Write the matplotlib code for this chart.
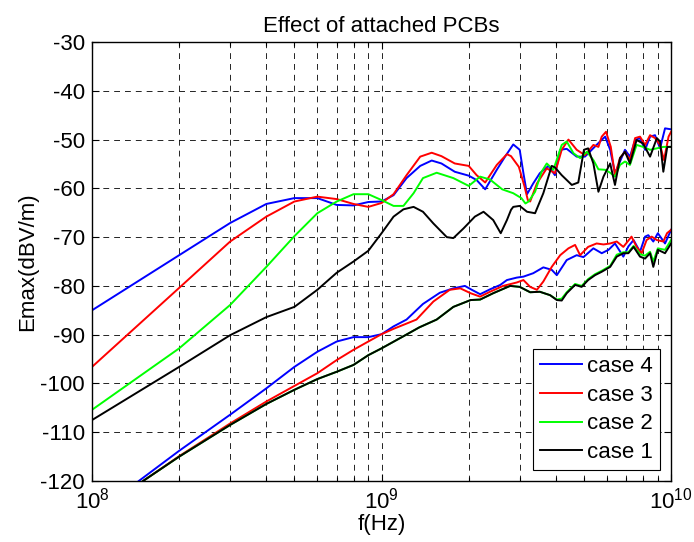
import matplotlib
matplotlib.use("Agg")
import matplotlib.pyplot as plt
import numpy as np
from matplotlib.ticker import LogLocator, NullFormatter, MultipleLocator

plt.rcParams["font.family"] = ["Liberation Sans", "DejaVu Sans"]
plt.rcParams["mathtext.fontset"] = "custom"
plt.rcParams["mathtext.rm"] = "Liberation Sans"
plt.rcParams["mathtext.it"] = "Liberation Sans"
plt.rcParams["mathtext.default"] = "regular"
plt.rcParams["axes.unicode_minus"] = False

# frequencies in GHz, field in dBV/m
case4_hi_f = [0.1, 0.2, 0.3, 0.4, 0.5, 0.6, 0.7, 0.8, 0.9, 1.0,
              1.1, 1.22, 1.36, 1.49, 1.61, 1.79, 2.0, 2.13, 2.28, 2.5,
              2.67, 2.85, 3.0, 3.09, 3.18, 3.34, 3.52, 3.77, 3.97, 4.14,
              4.36, 4.72, 5.04, 5.32, 5.68, 5.92, 6.16, 6.4, 6.66, 6.93,
              7.21, 7.51, 7.81, 8.13, 8.46, 8.8, 9.16, 9.53, 10.0]
case4_hi_e = [-85.0, -73.7, -67.1, -63.2, -62.0, -62.0, -63.4, -63.5, -62.8, -62.7,
              -61.4, -57.9, -55.4, -54.3, -54.9, -56.6, -57.4, -58.3, -60.2, -56.2,
              -53.5, -51.0, -52.1, -56.9, -61.2, -59.0, -56.9, -55.4, -57.3, -52.1,
              -51.9, -53.5, -53.5, -52.1, -50.4, -49.4, -52.1, -56.9, -54.5, -52.1,
              -53.5, -50.1, -49.7, -52.1, -49.4, -49.1, -51.8, -47.7, -47.9]

case3_hi_f = [0.1, 0.2, 0.3, 0.4, 0.5, 0.6, 0.7, 0.8, 0.9, 1.0,
              1.1, 1.22, 1.36, 1.49, 1.61, 1.79, 2.0, 2.13, 2.28, 2.5,
              2.71, 2.8, 2.98, 3.12, 3.2, 3.26, 3.44, 3.72, 3.97, 4.19,
              4.42, 4.72, 5.04, 5.39, 5.61, 5.76, 5.96, 6.19, 6.4, 6.66,
              6.93, 7.21, 7.51, 7.81, 8.13, 8.46, 8.8, 9.16, 9.45, 9.8, 10.0]
case3_hi_e = [-96.6, -80.4, -70.9, -65.8, -62.7, -61.7, -62.2, -63.2, -63.8, -63.0,
              -61.2, -57.3, -53.5, -52.7, -53.4, -54.9, -55.4, -57.3, -58.8, -55.2,
              -53.0, -53.4, -55.6, -59.7, -62.4, -62.7, -59.0, -55.9, -56.9, -52.1,
              -50.0, -52.1, -53.2, -51.1, -51.5, -49.4, -48.4, -51.5, -57.3, -53.8,
              -52.5, -54.2, -49.7, -49.4, -51.1, -49.1, -49.7, -51.1, -54.2, -49.4, -48.4]

case2_hi_f = [0.1, 0.2, 0.3, 0.4, 0.5, 0.6, 0.7, 0.8, 0.9, 1.0,
              1.1, 1.19, 1.29, 1.39, 1.55, 1.77, 2.0, 2.19, 2.37, 2.61,
              2.85, 3.04, 3.14, 3.22, 3.39, 3.57, 3.72, 3.92, 4.19, 4.36,
              4.6, 4.85, 5.12, 5.39, 5.61, 5.92, 6.16, 6.4, 6.66, 6.93,
              7.21, 7.6, 8.0, 8.46, 8.93, 9.4, 10.0]
case2_hi_e = [-105.4, -92.8, -83.9, -76.1, -69.8, -65.1, -62.7, -61.2, -61.2, -62.4,
              -63.6, -63.6, -61.0, -57.9, -56.8, -57.9, -59.5, -57.6, -58.2, -60.2,
              -61.0, -62.0, -63.1, -62.7, -60.7, -56.6, -54.9, -56.2, -51.1, -50.4,
              -52.8, -53.8, -52.5, -54.2, -56.1, -56.2, -56.8, -57.6, -55.2, -54.5,
              -55.2, -51.1, -51.5, -52.1, -51.8, -51.5, -51.5]

case1_hi_f = [0.1, 0.2, 0.3, 0.4, 0.5, 0.6, 0.7, 0.8, 0.9, 1.0,
              1.1, 1.19, 1.29, 1.39, 1.51, 1.68, 1.77, 1.92, 2.1, 2.25,
              2.43, 2.58, 2.71, 2.8, 2.85, 3.0, 3.18, 3.39, 3.62, 3.87,
              3.97, 4.19, 4.54, 4.78, 5.0, 5.17, 5.39, 5.61, 5.84, 6.16,
              6.4, 6.66, 6.93, 7.21, 7.6, 8.0, 8.46, 8.93, 9.16, 9.4, 9.7, 10.0]
case1_hi_e = [-107.5, -96.6, -90.1, -86.4, -84.3, -80.8, -77.3, -75.0, -72.8, -69.2,
              -65.8, -64.3, -63.8, -64.8, -67.2, -70.0, -70.2, -68.2, -65.8, -64.8,
              -66.5, -69.2, -66.5, -64.4, -63.8, -63.6, -64.8, -65.1, -61.0, -55.4,
              -55.7, -57.3, -59.3, -58.8, -52.1, -51.8, -54.9, -60.7, -57.6, -54.9,
              -59.3, -53.8, -52.5, -54.9, -50.1, -50.8, -53.5, -49.7, -50.4, -56.6, -51.5, -51.5]

case4_lo_f = [0.145, 0.2, 0.3, 0.4, 0.5, 0.6, 0.7, 0.8, 0.9, 1.0,
              1.1, 1.22, 1.39, 1.59, 1.77, 1.94, 2.05, 2.19, 2.37, 2.57,
              2.71, 2.93, 3.09, 3.34, 3.62, 3.87, 4.03, 4.36, 4.72, 4.98,
              5.39, 5.76, 6.08, 6.4, 6.84, 7.12, 7.42, 7.81, 8.13, 8.34,
              8.68, 9.0, 9.53, 10.0]
case4_lo_e = [-120.0, -113.8, -106.4, -101.0, -96.6, -93.5, -91.4, -90.5, -90.5, -89.9,
              -88.3, -86.9, -83.7, -81.4, -80.5, -80.0, -80.8, -81.7, -80.7, -79.8,
              -78.8, -78.3, -78.1, -77.4, -76.2, -76.7, -77.8, -74.7, -73.7, -74.1,
              -72.3, -73.3, -72.6, -71.3, -74.0, -71.9, -70.6, -73.0, -69.9, -69.6,
              -70.9, -69.2, -71.3, -68.5]

case3_lo_f = [0.15, 0.2, 0.3, 0.4, 0.5, 0.6, 0.7, 0.8, 0.9, 1.0,
              1.1, 1.32, 1.51, 1.72, 1.87, 2.03, 2.19, 2.37, 2.63, 2.93,
              3.09, 3.26, 3.44, 3.62, 3.87, 4.14, 4.42, 4.66, 4.85, 5.17,
              5.53, 5.84, 6.16, 6.49, 6.84, 7.3, 7.6, 7.91, 8.23, 8.57,
              8.93, 9.4, 9.68, 10.0]
case3_lo_e = [-120.0, -114.9, -108.2, -103.7, -100.5, -97.9, -95.2, -93.1, -91.4, -89.9,
              -88.8, -86.9, -83.2, -80.8, -80.5, -81.5, -82.2, -81.2, -80.0, -79.3,
              -78.8, -80.2, -80.8, -79.1, -76.1, -73.7, -72.3, -71.6, -73.7, -72.0,
              -71.3, -71.5, -71.3, -70.9, -72.0, -69.9, -72.0, -73.3, -70.6, -69.9,
              -70.6, -70.9, -69.2, -68.5]

case2_lo_f = [0.15, 0.2, 0.3, 0.4, 0.5, 0.6, 0.7, 0.8, 0.9, 1.0,
              1.2, 1.35, 1.55, 1.77, 2.03, 2.19, 2.43, 2.78, 3.0, 3.26,
              3.52, 3.82, 4.03, 4.19, 4.36, 4.66, 4.91, 5.17, 5.46, 5.76,
              6.16, 6.49, 6.84, 7.12, 7.42, 7.81, 8.13, 8.46, 8.68, 9.0,
              9.53, 10.0]
case2_lo_e = [-120.0, -115.0, -108.5, -104.2, -101.3, -99.1, -97.6, -96.2, -94.2, -92.8,
              -90.2, -88.5, -86.9, -84.3, -82.9, -82.8, -81.5, -80.0, -80.2, -81.3,
              -81.2, -81.9, -82.8, -82.6, -81.3, -79.6, -80.0, -78.6, -77.6, -76.9,
              -75.9, -73.6, -73.1, -73.1, -71.8, -73.5, -73.8, -73.0, -75.0, -72.3,
              -72.6, -70.6]

case1_lo_f = [0.15, 0.2, 0.3, 0.4, 0.5, 0.6, 0.7, 0.8, 0.9, 1.0,
              1.2, 1.35, 1.55, 1.77, 2.03, 2.19, 2.43, 2.78, 3.0, 3.26,
              3.52, 3.82, 4.03, 4.19, 4.36, 4.66, 4.91, 5.17, 5.46, 5.76,
              6.16, 6.49, 6.84, 7.12, 7.42, 7.81, 8.13, 8.46, 8.68, 9.0,
              9.53, 10.0]
case1_lo_e = [-120.0, -115.0, -108.5, -104.2, -101.3, -99.1, -97.6, -96.2, -94.2, -92.8,
              -90.2, -88.5, -86.9, -84.3, -82.9, -82.8, -81.5, -80.0, -80.2, -81.3,
              -81.2, -81.9, -82.9, -83.0, -81.5, -79.8, -80.2, -78.8, -77.8, -77.1,
              -76.1, -74.0, -73.3, -73.3, -72.0, -74.0, -74.4, -73.3, -76.1, -72.6,
              -73.3, -71.3]

cases = [
    ("case 4", "#0000ff", case4_hi_f, case4_hi_e, case4_lo_f, case4_lo_e),
    ("case 3", "#ff0000", case3_hi_f, case3_hi_e, case3_lo_f, case3_lo_e),
    ("case 2", "#00ff00", case2_hi_f, case2_hi_e, case2_lo_f, case2_lo_e),
    ("case 1", "#000000", case1_hi_f, case1_hi_e, case1_lo_f, case1_lo_e),
]

fig = plt.figure(figsize=(6.94, 5.42), dpi=100)
ax = fig.add_axes([0.1326, 0.1125, 0.8344, 0.81])

for label, color, hf, he, lf, le in cases:
    ax.plot(np.array(hf) * 1e9, he, color=color, lw=1.4, label=label)
    ax.plot(np.array(lf) * 1e9, le, color=color, lw=1.4)

ax.set_xscale("log")
ax.set_xlim(1e8, 1e10)
ax.set_ylim(-120, -30)
ax.yaxis.set_major_locator(MultipleLocator(10))
ax.xaxis.set_major_locator(LogLocator(base=10, numticks=5))
ax.xaxis.set_minor_locator(LogLocator(base=10, subs=np.arange(2, 10), numticks=20))
ax.xaxis.set_minor_formatter(NullFormatter())

grid_style = dict(color="black", lw=0.6, linestyle=(0, (7, 6)))
ax.grid(True, which="major", axis="both", **grid_style)
ax.grid(True, which="minor", axis="x", **grid_style)

ax.tick_params(which="both", direction="in", top=True, right=True, labelsize=16, width=0.8)
ax.tick_params(which="major", length=5, pad=5)
ax.tick_params(which="minor", length=3)
for side in ax.spines.values():
    side.set_linewidth(1.0)

ax.set_title("Effect of attached PCBs", fontsize=16, pad=7)
ax.set_xlabel("f(Hz)", fontsize=16, labelpad=0)
ax.set_ylabel("Emax(dBV/m)", fontsize=16, labelpad=2)

leg = ax.legend(loc="lower right", fontsize=16, frameon=True, fancybox=False,
                edgecolor="black", framealpha=1, borderaxespad=0.5,
                handlelength=1.9, handletextpad=0.25, borderpad=0.3, labelspacing=0.35)
leg.get_frame().set_linewidth(0.8)

fig.savefig("out.png", dpi=100)
